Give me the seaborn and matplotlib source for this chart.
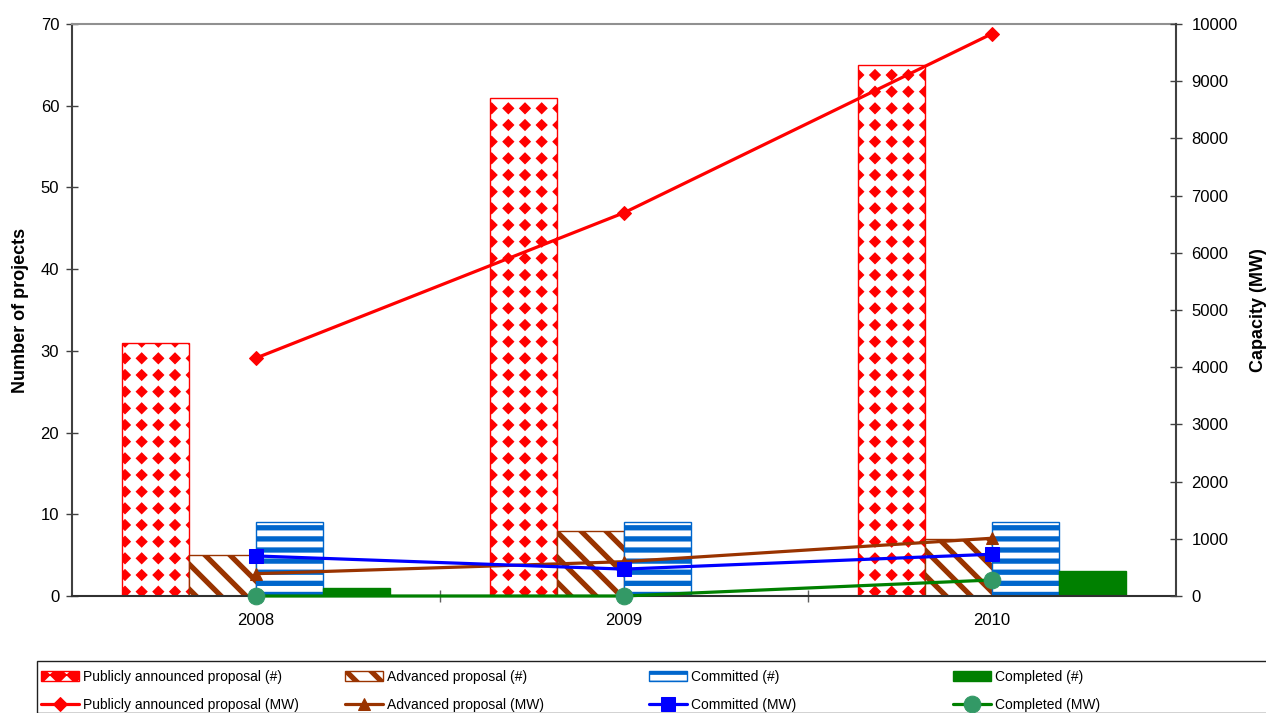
import numpy as np
import pandas as pd
import matplotlib
matplotlib.use("Agg")
import matplotlib.pyplot as plt
import matplotlib.hatch as mhatch
from matplotlib.path import Path
from matplotlib.patches import Rectangle
from matplotlib.ticker import FixedLocator
import seaborn as sns

# ---------------------------------------------------------------- data
years = ["2008", "2009", "2010"]

count_public = [31, 61, 65]
count_advanced = [5, 8, 7]
count_committed = [9, 9, 9]
count_completed = [1, 0, 3]

mw_public = [4160, 6700, 9830]
mw_advanced = [390, 600, 1010]
mw_committed = [700, 470, 730]
mw_completed = [0, 0, 280]

bar_labels = ["Publicly announced proposal (#)", "Advanced proposal (#)",
              "Committed (#)", "Completed (#)"]
line_labels = ["Publicly announced proposal (MW)", "Advanced proposal (MW)",
               "Committed (MW)", "Completed (MW)"]


# ---------------------------------------------------------------- fill patterns
class DiamondGrid(mhatch.HatchPatternBase):
    """Square grid of filled diamonds (used for the '*' hatch)."""
    size = 0.31

    def __init__(self, hatch, density):
        self.num_rows = int(hatch.count('*') * density)
        self.num_vertices = self.num_rows ** 2 * 5

    def set_vertices_and_codes(self, vertices, codes):
        n = self.num_rows
        step = 1.0 / n
        r = self.size * step
        base = np.array([[0, r], [r, 0], [0, -r], [-r, 0], [0, r]])
        i = 0
        for row in range(n):
            for col in range(n):
                centre = np.array([(col + 0.5) * step, (row + 0.5) * step])
                vertices[i:i + 5] = base + centre
                codes[i:i + 5] = [Path.MOVETO, Path.LINETO, Path.LINETO,
                                  Path.LINETO, Path.CLOSEPOLY]
                i += 5


class WideRows(mhatch.HorizontalHatch):
    """Horizontal stripes, a little wider apart than the default."""
    def __init__(self, hatch, density):
        self.num_lines = int(round((hatch.count('-') + hatch.count('+')) * density * 1.5))
        self.num_vertices = self.num_lines * 2


class DenseBackslash(mhatch.SouthEastHatch):
    """'\\' diagonal stripes, about a quarter inch apart along x."""
    def __init__(self, hatch, density):
        self.num_lines = int(round((hatch.count('\\') + hatch.count('x') + hatch.count('X'))
                                   * density * 4 / 3))
        self.num_vertices = (self.num_lines + 1) * 2 if self.num_lines else 0


mhatch._hatch_types = [WideRows, mhatch.VerticalHatch, mhatch.NorthEastHatch,
                       DenseBackslash, mhatch.SmallCircles, mhatch.LargeCircles,
                       mhatch.SmallFilledCircles, DiamondGrid]

# ---------------------------------------------------------------- style
sns.set_theme(style="white")
plt.rcParams["font.family"] = ["Liberation Sans", "DejaVu Sans"]
plt.rcParams["font.size"] = 10
plt.rcParams["text.color"] = "black"
plt.rcParams["axes.labelcolor"] = "black"
plt.rcParams["xtick.labelcolor"] = "black"
plt.rcParams["ytick.labelcolor"] = "black"
plt.rcParams["hatch.linewidth"] = 3.8

RED = "#FF0000"
BROWN = "#993300"
BLUE_BAR = "#0066CC"
BLUE_LINE = "#0000FF"
GREEN = "#008000"
SEA = "#339966"

bar_styles = [
    dict(hatch="*", edge=RED, face="white", hlw=1.0),
    dict(hatch="\\", edge=BROWN, face="white", hlw=3.8),
    dict(hatch="-", edge=BLUE_BAR, face="white", hlw=3.8),
    dict(hatch=None, edge=GREEN, face=GREEN, hlw=1.0),
]

# ---------------------------------------------------------------- figure
fig = plt.figure(figsize=(12.66, 7.13), dpi=100)
ax = fig.add_axes([72 / 1266, 1 - 596 / 713, 1104 / 1266, 572 / 713])

df = pd.DataFrame({
    "year": np.repeat(years, 4),
    "series": bar_labels * len(years),
    "count": np.array([count_public, count_advanced,
                       count_committed, count_completed]).T.ravel(),
})

sns.barplot(data=df, x="year", y="count", hue="series", hue_order=bar_labels,
            order=years, palette=["white"] * 4, width=0.728, gap=0,
            legend=False, ax=ax, saturation=1)

for container, st in zip(ax.containers, bar_styles):
    for p in container.patches:
        p.set_facecolor(st["face"])
        p.set_edgecolor(st["edge"])
        p.set_linewidth(1.0)
        if st["hatch"]:
            p.set_hatch(st["hatch"])
        if hasattr(p, "set_hatch_linewidth"):
            p.set_hatch_linewidth(st["hlw"])

ax.set_ylim(0, 70)
ax.set_xlim(-0.5, 2.5)
ax.set_yticks(range(0, 71, 10))
ax.set_xlabel("")
ax.set_ylabel("Number of projects", fontsize=13, fontweight="bold", color="black")
ax.yaxis.set_label_coords(-0.0388, 0.5)

# secondary axis with capacities
ax2 = ax.twinx()
xpos = np.arange(len(years))
line_specs = [
    (mw_public, RED, "D", 7, RED),
    (mw_advanced, BROWN, "^", 9, BROWN),
    (mw_committed, BLUE_LINE, "s", 10, BLUE_LINE),
    (mw_completed, GREEN, "o", 12, SEA),
]
for vals, col, mk, ms, mfc in line_specs:
    sns.lineplot(x=xpos, y=vals, ax=ax2, color=col, marker=mk, markersize=ms,
                 markerfacecolor=mfc, markeredgecolor=mfc, linewidth=2.3,
                 legend=False, clip_on=False)
for ln, lab in zip(ax2.lines, line_labels):
    ln.set_label(lab)

ax2.set_ylim(0, 10000)
ax2.set_xlim(-0.5, 2.5)
ax2.set_yticks(range(0, 10001, 1000))
ax2.set_ylabel("Capacity (MW)", fontsize=13, fontweight="bold", color="black")
ax2.yaxis.set_label_coords(1.067, 0.5)

# axes frame and ticks
for a in (ax, ax2):
    for s in a.spines.values():
        s.set_visible(False)
ax.spines["left"].set_visible(True)
ax.spines["left"].set_color("#404040")
ax.spines["left"].set_linewidth(1.5)
ax.spines["bottom"].set_visible(True)
ax.spines["bottom"].set_color("#303030")
ax.spines["bottom"].set_linewidth(1.5)
ax.spines["top"].set_visible(True)
ax.spines["top"].set_color("#909090")
ax.spines["top"].set_linewidth(1.5)
ax2.spines["right"].set_visible(True)
ax2.spines["right"].set_color("#404040")
ax2.spines["right"].set_linewidth(1.5)

ax.tick_params(axis="y", which="major", direction="inout", length=8.5, width=1,
               color="#404040", pad=5, labelsize=12, labelcolor="black", left=True)
ax2.tick_params(axis="y", which="major", direction="inout", length=8.5, width=1,
                color="#404040", pad=7, labelsize=12, labelcolor="black", right=True)
ax.tick_params(axis="x", which="major", length=0, pad=12, labelsize=12,
               labelcolor="black", bottom=True)
ax.xaxis.set_minor_locator(FixedLocator([0.5, 1.5]))
ax.tick_params(axis="x", which="minor", direction="inout", length=8.5, width=1,
               color="#606060", bottom=True)
ax2.tick_params(axis="x", which="both", bottom=False, top=False,
                labelbottom=False, labeltop=False)

# ---------------------------------------------------------------- legend
bar_handles = list(ax.containers)
line_handles = list(ax2.lines)
col_x = [41, 345, 649, 953]
for bh, lh, bl, ll, x in zip(bar_handles, line_handles, bar_labels, line_labels, col_x):
    fig.legend([bh, lh], [bl, ll], loc="upper left",
               bbox_to_anchor=(x / 1266, 1 - 670 / 713),
               frameon=False, borderpad=0, borderaxespad=0, fontsize=10,
               handlelength=2.75, handleheight=0.72, handletextpad=0.3,
               labelspacing=0.98, labelcolor="black")

fig.patches.append(Rectangle((37 / 1266, 0), 1.0, (713 - 661) / 713,
                             transform=fig.transFigure, fill=False,
                             edgecolor="#202020", linewidth=1.0))

fig.savefig("out.png", dpi=100)
